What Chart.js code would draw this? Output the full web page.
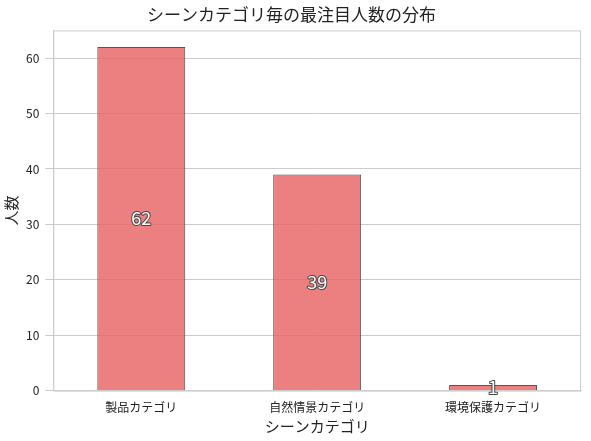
<!DOCTYPE html>
<html><head><meta charset="utf-8">
<script src="https://cdn.jsdelivr.net/npm/chart.js@4"></script>
<style>body{margin:0;background:#fff}#w{width:591px;height:441px}</style>
</head><body><div id="w"><canvas id="c"></canvas></div>
<script>
const categories = ['製品カテゴリ', '自然情景カテゴリ', '環境保護カテゴリ'];
const counts = [62, 39, 1];
const yTicks = [0, 10, 20, 30, 40, 50, 60];

const font = "'Noto Sans CJK JP', sans-serif";

const midLabels = {
  id: 'midLabels',
  afterDatasetsDraw(chart) {
    const ctx = chart.ctx;
    const a = chart.chartArea;
    ctx.save();
    ctx.strokeStyle = '#ccc';
    ctx.lineWidth = 1;
    ctx.strokeRect(a.left + 0.5, a.top + 0.5, a.right - a.left - 1, a.bottom - a.top);
    const meta = chart.getDatasetMeta(0);
    ctx.font = '18px ' + font;
    ctx.textAlign = 'center';
    ctx.textBaseline = 'middle';
    ctx.lineWidth = 2;
    ctx.lineJoin = 'round';
    ctx.strokeStyle = '#444';
    ctx.fillStyle = '#fff';
    meta.data.forEach((bar, i) => {
      const y = (bar.y + bar.base) / 2;
      ctx.strokeText(String(counts[i]), bar.x, y);
      ctx.fillText(String(counts[i]), bar.x, y);
    });
    ctx.restore();
  }
};

new Chart(document.getElementById('c'), {
  type: 'bar',
  data: {
    labels: categories,
    datasets: [{
      data: counts,
      backgroundColor: 'rgba(232,100,100,0.82)',
      borderColor: '#555',
      borderWidth: 1,
      categoryPercentage: 1,
      barPercentage: 0.5
    }]
  },
  options: {
    responsive: true,
    maintainAspectRatio: false,
    animation: false,
    layout: { padding: { left: 2, right: 10, top: 2, bottom: 6 } },
    plugins: {
      legend: { display: false },
      tooltip: { enabled: false },
      title: { display: true, text: 'シーンカテゴリ毎の最注目人数の分布', color: '#222',
        font: { family: font, size: 17, weight: 'normal' }, padding: { top: 2, bottom: 6 } }
    },
    scales: {
      x: {
        grid: { display: false },
        border: { color: '#ccc' },
        ticks: { color: '#222', font: { family: font, size: 12 }, padding: 2 },
        title: { display: true, text: 'シーンカテゴリ', color: '#222', font: { family: font, size: 15 }, padding: 0 }
      },
      y: {
        min: 0, max: 65,
        afterBuildTicks: s => { s.ticks = yTicks.map(v => ({ value: v })); },
        grid: { color: '#ccc' },
        border: { color: '#ccc' },
        ticks: { color: '#222', font: { family: font, size: 12 }, padding: 6 },
        title: { display: true, text: '人数', color: '#222', font: { family: font, size: 15 }, padding: 0 }
      }
    }
  },
  plugins: [midLabels]
});
</script></body></html>
